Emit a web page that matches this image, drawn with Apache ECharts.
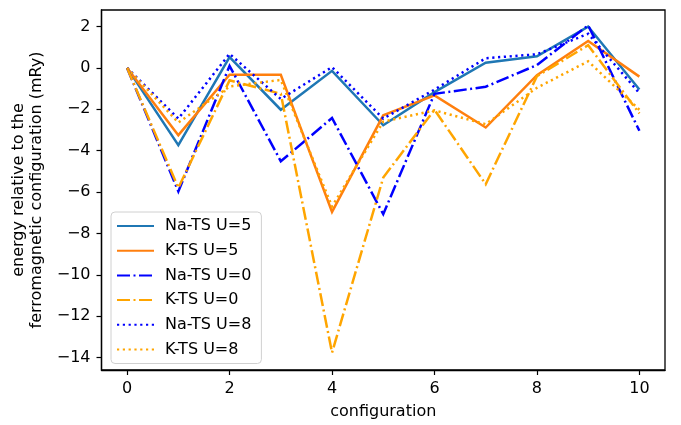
<!DOCTYPE html>
<html>
<head>
    <meta charset="utf-8">
    <title>chart</title>
    <style>
        html, body { margin: 0; padding: 0; background: #fff; }
        #main { width: 681px; height: 425px; }
    </style>
    <script src="https://cdn.jsdelivr.net/npm/echarts@6/dist/echarts.min.js"></script>
</head>
<body>
<div id="main"></div>
<script>
    // configurations on the x axis
    const configs = [0, 1, 2, 3, 4, 5, 6, 7, 8, 9, 10];
    const xTicks = [0, 2, 4, 6, 8, 10];
    const yTicks = [-14, -12, -10, -8, -6, -4, -2, 0, 2];

    // energies (mRy)
    const naU5 = [0, -3.73, 0.52, -2.02, -0.14, -2.77, -1.17, 0.25, 0.56, 2.0, -1.04];
    const kU5  = [0, -3.25, -0.33, -0.33, -6.96, -2.29, -1.33, -2.88, -0.35, 1.3, -0.42];
    const naU0 = [0, -5.97, 0.1, -4.51, -2.42, -7.07, -1.25, -0.91, 0.14, 2.06, -3.04];
    const kU0  = [0, -5.8, -0.6, -1.25, -13.76, -5.3, -2.02, -5.62, -0.4, 1.1, -2.2];
    const naU8 = [0, -2.45, 0.68, -1.5, 0.04, -2.45, -1.05, 0.47, 0.66, 1.65, -1.22];
    const kU8  = [0, -2.64, -0.9, -0.58, -6.7, -2.6, -2.05, -2.72, -0.96, 0.32, -2.02];

    const font = 'DejaVu Sans';
    const dashDot = [13, 3.5, 2, 3.5];
    const dotted = [2.2, 3.6];

    function pts(vals) {
        return configs.map((c, i) => [c, vals[i]]);
    }

    function line(name, vals, color, type) {
        return {
            name: name,
            type: 'line',
            data: pts(vals),
            symbol: 'none',
            showSymbol: false,
            animation: false,
            clip: true,
            itemStyle: {color: color},
            lineStyle: {color: color, width: 2.5, type: type, cap: 'butt', join: 'miter'}
        };
    }

    const axisLine = {show: true, onZero: false, lineStyle: {color: '#000', width: 1.3}};

    const chart = echarts.init(document.getElementById('main'));
    chart.setOption({
        animation: false,
        grid: {
            left: 101.5, right: 16, top: 10, bottom: 52,
            show: true, borderColor: '#000', borderWidth: 1.3, backgroundColor: 'transparent'
        },
        legend: {
            orient: 'vertical',
            left: 111, top: 212,
            padding: [5, 10, 5, 5],
            itemWidth: 37, itemHeight: 18, itemGap: 6.7,
            backgroundColor: 'rgba(255,255,255,0.8)',
            borderColor: '#d0d0d0', borderWidth: 1, borderRadius: 4,
            itemStyle: {color: 'rgba(0,0,0,0)', borderWidth: 0, opacity: 0},
            textStyle: {fontFamily: font, fontSize: 16, color: '#000', lineHeight: 18, padding: [0, 0, 0, 6]},
            data: ['Na-TS U=5', 'K-TS U=5', 'Na-TS U=0', 'K-TS U=0', 'Na-TS U=8', 'K-TS U=8']
        },
        xAxis: {
            type: 'value',
            min: -0.5, max: 10.5,
            name: 'configuration',
            nameLocation: 'middle',
            nameGap: 34,
            nameTextStyle: {fontFamily: font, fontSize: 16, color: '#000'},
            axisLine: axisLine,
            splitLine: {show: false},
            axisTick: {show: true, length: 5, lineStyle: {color: '#000', width: 1.2}, customValues: xTicks},
            axisLabel: {fontFamily: font, fontSize: 16, color: '#000', margin: 11, customValues: xTicks}
        },
        yAxis: {
            type: 'value',
            min: -14.6, max: 2.8,
            name: 'energy relative to the\nferromagnetic configuration (mRy)',
            nameLocation: 'middle',
            nameRotate: 90,
            nameGap: 42,
            nameTextStyle: {fontFamily: font, fontSize: 16, color: '#000', lineHeight: 18},
            axisLine: axisLine,
            splitLine: {show: false},
            axisTick: {show: true, length: 5, lineStyle: {color: '#000', width: 1.2}, customValues: yTicks},
            axisLabel: {
                fontFamily: font, fontSize: 16, color: '#000', margin: 11, customValues: yTicks,
                formatter: v => String(v).replace('-', '\u2212')
            }
        },
        series: [
            line('Na-TS U=5', naU5, '#1f77b4', 'solid'),
            line('K-TS U=5', kU5, '#ff7f0e', 'solid'),
            line('Na-TS U=0', naU0, '#0000ff', dashDot),
            line('K-TS U=0', kU0, '#ffa500', dashDot),
            line('Na-TS U=8', naU8, '#0000ff', dotted),
            line('K-TS U=8', kU8, '#ffa500', dotted)
        ]
    });
</script>
</body>
</html>
